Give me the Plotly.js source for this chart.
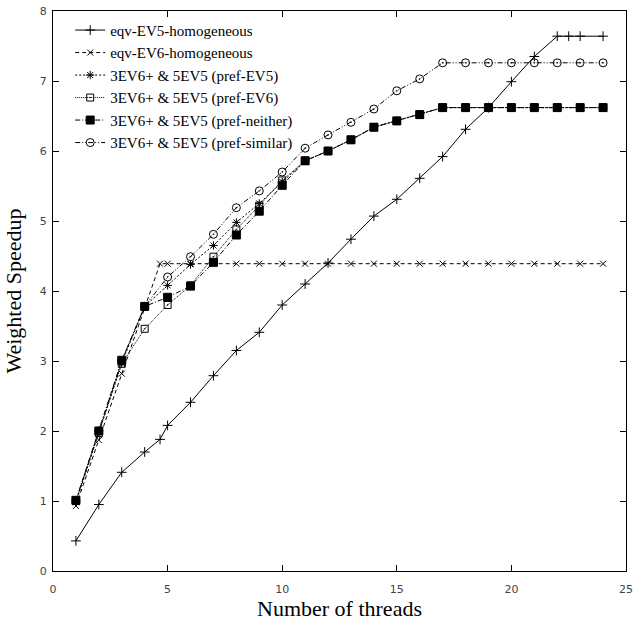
<!DOCTYPE html>
<html>
<head>
<meta charset="utf-8">
<script src="https://cdn.plot.ly/plotly-3.0.1.min.js"></script>
<style>html,body{margin:0;padding:0;background:#fff;}#chart{width:641px;height:625px;}</style>
</head>
<body>
<div id="chart"></div>
<script>
// Data
const seriesNames = [
  "eqv-EV5-homogeneous",
  "eqv-EV6-homogeneous",
  "3EV6+ & 5EV5 (pref-EV5)",
  "3EV6+ & 5EV5 (pref-EV6)",
  "3EV6+ & 5EV5 (pref-neither)",
  "3EV6+ & 5EV5 (pref-similar)"
];
const threads = [1,2,3,4,5,6,7,8,9,10,11,12,13,14,15,16,17,18,19,20,21,22,23,24];

const ev5X = [1,2,3,4,4.67,5,6,7,8,9,10,11,12,13,14,15,16,17,18,19,20,21,22,22.5,23,24];
const ev5Y = [0.43,0.95,1.41,1.70,1.88,2.08,2.41,2.79,3.15,3.41,3.80,4.10,4.40,4.74,5.07,5.31,5.61,5.92,6.31,6.62,6.99,7.35,7.64,7.64,7.64,7.64];

const ev6X = [1,2,3,4,4.67,5,6,7,8,9,10,11,12,13,14,15,16,17,18,19,20,21,22,23,24];
const ev6Y = [0.93,1.87,2.82,3.76,4.39,4.39,4.39,4.39,4.39,4.39,4.39,4.39,4.39,4.39,4.39,4.39,4.39,4.39,4.39,4.39,4.39,4.39,4.39,4.39,4.39];

const prefEV5 = [0.98,1.98,2.97,3.78,4.08,4.38,4.65,4.98,5.25,5.56,5.86,6.00,6.16,6.34,6.43,6.52,6.62,6.62,6.62,6.62,6.62,6.62,6.62,6.62];
const prefEV6 = [1.00,1.97,2.96,3.46,3.80,4.08,4.49,4.88,5.22,5.58,5.86,6.00,6.16,6.34,6.43,6.52,6.62,6.62,6.62,6.62,6.62,6.62,6.62,6.62];
const prefNeither = [1.01,2.00,3.01,3.78,3.91,4.07,4.41,4.80,5.14,5.51,5.86,6.00,6.16,6.34,6.43,6.52,6.62,6.62,6.62,6.62,6.62,6.62,6.62,6.62];
const prefSimilar = [1.00,2.00,3.00,3.78,4.20,4.49,4.81,5.19,5.43,5.70,6.04,6.23,6.41,6.60,6.86,7.03,7.26,7.26,7.26,7.26,7.26,7.26,7.26,7.26];

const xTicks = [0,5,10,15,20,25];
const yTicks = [0,1,2,3,4,5,6,7,8];

function tr(name, x, y, symbol, msize, dash) {
  return {
    type: "scatter", mode: "lines+markers", name: name, x: x, y: y,
    line: {color: "#000", width: 1, dash: dash},
    marker: {symbol: symbol, size: msize, color: "#000", line: {color: "#000", width: 1}}
  };
}

const data = [
  tr(seriesNames[0], ev5X, ev5Y, "cross-thin", 7, "solid"),
  tr(seriesNames[1], ev6X, ev6Y, "x-thin", 6, "4px,3px"),
  tr(seriesNames[2], threads, prefEV5, "asterisk", 7, "2px,2px"),
  tr(seriesNames[3], threads, prefEV6, "square-open-dot", 7, "1px,1px"),
  tr(seriesNames[4], threads, prefNeither, "square", 8, "5px,2px,1px,2px"),
  tr(seriesNames[5], threads, prefSimilar, "circle-open-dot", 8, "5px,2px,1px,2px,1px,2px")
];

const axisCommon = {
  showgrid: false, zeroline: false, showline: true, linecolor: "#000", linewidth: 1,
  mirror: "ticks", ticks: "inside", ticklen: 6, tickcolor: "#000", tickwidth: 1,
  tickfont: {family: "DejaVu Sans", size: 11, color: "#444"}
};

const layout = {
  width: 641, height: 625,
  margin: {l: 53, r: 15, t: 11, b: 54},
  paper_bgcolor: "#fff", plot_bgcolor: "#fff",
  showlegend: true,
  legend: {
    x: 0.03, y: 0.995, xanchor: "left", yanchor: "top",
    bgcolor: "rgba(0,0,0,0)", borderwidth: 0,
    font: {family: "Liberation Serif", size: 15, color: "#000"},
    itemwidth: 30, tracegroupgap: 0
  },
  xaxis: Object.assign({}, axisCommon, {
    range: [0, 25], tickvals: xTicks, ticktext: xTicks.map(String),
    ticklabelstandoff: 8,
    title: {text: "Number of threads", font: {family: "Liberation Serif", size: 22, color: "#000"}, standoff: 4}
  }),
  yaxis: Object.assign({}, axisCommon, {
    range: [0, 8], tickvals: yTicks, ticktext: yTicks.map(String),
    ticklabelstandoff: 3,
    title: {text: "Weighted Speedup", font: {family: "Liberation Serif", size: 22, color: "#000"}, standoff: 12}
  })
};

Plotly.newPlot("chart", data, layout, {displayModeBar: false, staticPlot: true});
</script>
</body>
</html>
